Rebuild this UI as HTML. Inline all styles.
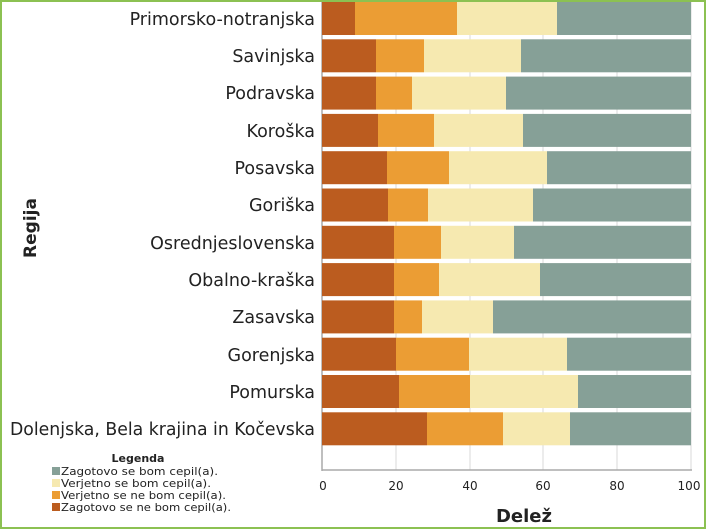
<!DOCTYPE html>
<html><head><meta charset="utf-8"><style>
html,body{margin:0;padding:0;background:#fff}
svg{display:block}
text{font-family:"DejaVu Sans","Liberation Sans",sans-serif;fill:#222}
</style></head><body>
<svg width="706" height="529" viewBox="0 0 706 529" xmlns="http://www.w3.org/2000/svg">
<rect x="0" y="0" width="706" height="529" fill="#fff"/>
<g stroke="#d8d8d8" stroke-width="1">
<line x1="396" y1="0" x2="396" y2="470"/>
<line x1="470" y1="0" x2="470" y2="470"/>
<line x1="543" y1="0" x2="543" y2="470"/>
<line x1="617" y1="0" x2="617" y2="470"/>
<line x1="691" y1="0" x2="691" y2="470"/>
</g>
<line x1="322" y1="0" x2="322" y2="471" stroke="#aaa" stroke-width="1.5"/>
<line x1="322" y1="470" x2="692" y2="470" stroke="#aaa" stroke-width="1.5"/>
<g>
<rect x="322" y="2" width="33" height="33" fill="#bb5c1f"/><rect x="355" y="2" width="102" height="33" fill="#eb9d34"/><rect x="457" y="2" width="100" height="33" fill="#f6e9b0"/><rect x="557" y="2" width="134" height="33" fill="#86a097"/>
<rect x="322" y="39.3" width="54" height="33" fill="#bb5c1f"/><rect x="376" y="39.3" width="48" height="33" fill="#eb9d34"/><rect x="424" y="39.3" width="97" height="33" fill="#f6e9b0"/><rect x="521" y="39.3" width="170" height="33" fill="#86a097"/>
<rect x="322" y="76.6" width="54" height="33" fill="#bb5c1f"/><rect x="376" y="76.6" width="36" height="33" fill="#eb9d34"/><rect x="412" y="76.6" width="94" height="33" fill="#f6e9b0"/><rect x="506" y="76.6" width="185" height="33" fill="#86a097"/>
<rect x="322" y="113.9" width="56" height="33" fill="#bb5c1f"/><rect x="378" y="113.9" width="56" height="33" fill="#eb9d34"/><rect x="434" y="113.9" width="89" height="33" fill="#f6e9b0"/><rect x="523" y="113.9" width="168" height="33" fill="#86a097"/>
<rect x="322" y="151.2" width="65" height="33" fill="#bb5c1f"/><rect x="387" y="151.2" width="62" height="33" fill="#eb9d34"/><rect x="449" y="151.2" width="98" height="33" fill="#f6e9b0"/><rect x="547" y="151.2" width="144" height="33" fill="#86a097"/>
<rect x="322" y="188.5" width="66" height="33" fill="#bb5c1f"/><rect x="388" y="188.5" width="40" height="33" fill="#eb9d34"/><rect x="428" y="188.5" width="105" height="33" fill="#f6e9b0"/><rect x="533" y="188.5" width="158" height="33" fill="#86a097"/>
<rect x="322" y="225.8" width="72" height="33" fill="#bb5c1f"/><rect x="394" y="225.8" width="47" height="33" fill="#eb9d34"/><rect x="441" y="225.8" width="73" height="33" fill="#f6e9b0"/><rect x="514" y="225.8" width="177" height="33" fill="#86a097"/>
<rect x="322" y="263.1" width="72" height="33" fill="#bb5c1f"/><rect x="394" y="263.1" width="45" height="33" fill="#eb9d34"/><rect x="439" y="263.1" width="101" height="33" fill="#f6e9b0"/><rect x="540" y="263.1" width="151" height="33" fill="#86a097"/>
<rect x="322" y="300.4" width="72" height="33" fill="#bb5c1f"/><rect x="394" y="300.4" width="28" height="33" fill="#eb9d34"/><rect x="422" y="300.4" width="71" height="33" fill="#f6e9b0"/><rect x="493" y="300.4" width="198" height="33" fill="#86a097"/>
<rect x="322" y="337.7" width="74" height="33" fill="#bb5c1f"/><rect x="396" y="337.7" width="73" height="33" fill="#eb9d34"/><rect x="469" y="337.7" width="98" height="33" fill="#f6e9b0"/><rect x="567" y="337.7" width="124" height="33" fill="#86a097"/>
<rect x="322" y="375" width="77" height="33" fill="#bb5c1f"/><rect x="399" y="375" width="71" height="33" fill="#eb9d34"/><rect x="470" y="375" width="108" height="33" fill="#f6e9b0"/><rect x="578" y="375" width="113" height="33" fill="#86a097"/>
<rect x="322" y="412.3" width="105" height="33" fill="#bb5c1f"/><rect x="427" y="412.3" width="76" height="33" fill="#eb9d34"/><rect x="503" y="412.3" width="67" height="33" fill="#f6e9b0"/><rect x="570" y="412.3" width="121" height="33" fill="#86a097"/>
</g>
<g font-size="17.5" text-anchor="end">
<text x="315" y="25">Primorsko-notranjska</text>
<text x="315" y="62">Savinjska</text>
<text x="315" y="99">Podravska</text>
<text x="315" y="137">Koroška</text>
<text x="315" y="174">Posavska</text>
<text x="315" y="211">Goriška</text>
<text x="315" y="249">Osrednjeslovenska</text>
<text x="315" y="286">Obalno-kraška</text>
<text x="315" y="323">Zasavska</text>
<text x="315" y="361">Gorenjska</text>
<text x="315" y="398">Pomurska</text>
<text x="315" y="435" textLength="305" lengthAdjust="spacingAndGlyphs">Dolenjska, Bela krajina in Kočevska</text>
</g>
<text x="0" y="0" font-size="17" font-weight="bold" transform="translate(36,228) rotate(-90)" text-anchor="middle">Regija</text>
<g font-size="12" text-anchor="middle" fill="#444">
<text x="323" y="490">0</text><text x="396" y="490">20</text><text x="470" y="490">40</text><text x="543" y="490">60</text><text x="617" y="490">80</text><text x="689" y="490">100</text>
</g>
<text x="524" y="522" font-size="18" font-weight="bold" text-anchor="middle">Delež</text>
<text x="138" y="462" font-size="11" font-weight="bold" text-anchor="middle">Legenda</text>
<g font-size="11">
<rect x="52" y="467" width="8" height="8" fill="#86a097"/><text x="61" y="475" textLength="157" lengthAdjust="spacingAndGlyphs">Zagotovo se bom cepil(a).</text>
<rect x="52" y="479" width="8" height="8" fill="#f6e9b0"/><text x="61" y="487" textLength="150" lengthAdjust="spacingAndGlyphs">Verjetno se bom cepil(a).</text>
<rect x="52" y="491" width="8" height="8" fill="#eb9d34"/><text x="61" y="499" textLength="165" lengthAdjust="spacingAndGlyphs">Verjetno se ne bom cepil(a).</text>
<rect x="52" y="503" width="8" height="8" fill="#bb5c1f"/><text x="61" y="511" textLength="170" lengthAdjust="spacingAndGlyphs">Zagotovo se ne bom cepil(a).</text>
</g>
<rect x="1" y="1" width="704" height="527" fill="none" stroke="#8cc152" stroke-width="2"/>
</svg>
</body></html>
